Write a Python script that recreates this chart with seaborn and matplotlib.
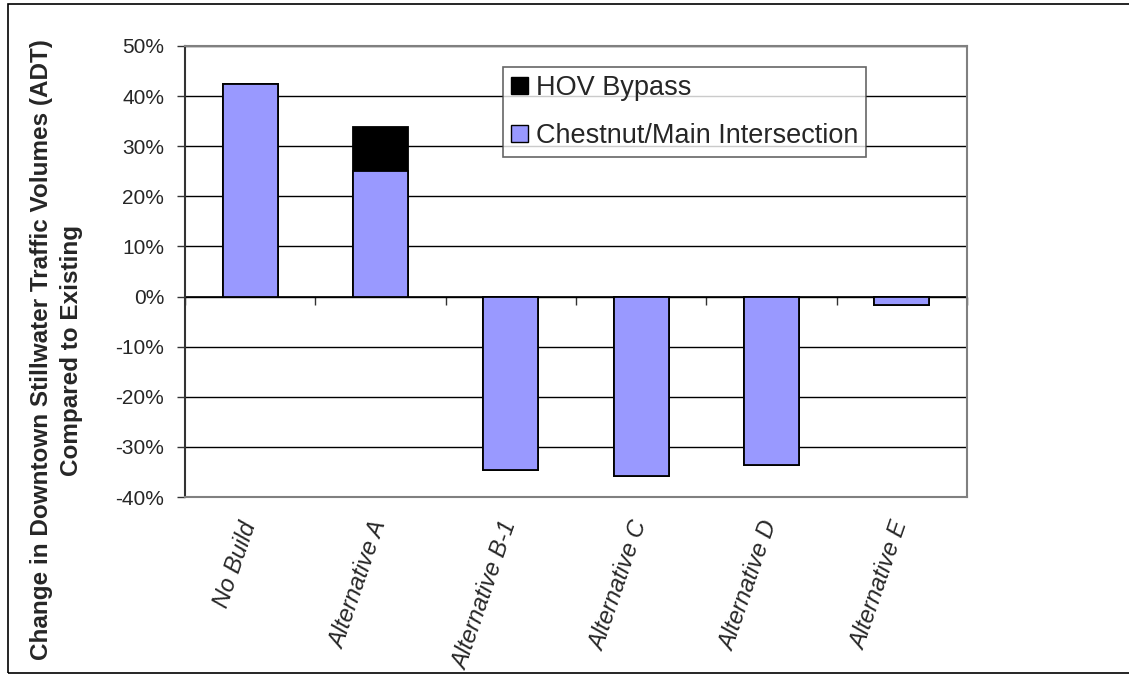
import numpy as np
import pandas as pd
import seaborn as sns
import matplotlib.pyplot as plt
from matplotlib.patches import Patch, Rectangle
from matplotlib.ticker import PercentFormatter

categories = ["No Build", "Alternative A", "Alternative B-1", "Alternative C", "Alternative D", "Alternative E"]
chestnut_main = [42.5, 25.0, -34.6, -35.9, -33.7, -1.7]
hov_bypass = [0.0, 8.8, 0.0, 0.0, 0.0, 0.0]
y_ticks = list(range(-40, 51, 10))

PURPLE = "#9999FF"

df = pd.DataFrame({"category": categories, "chestnut": chestnut_main, "hov": hov_bypass})
df["total"] = df["chestnut"] + df["hov"]

sns.set_style("white")
plt.rcParams["font.family"] = ["Liberation Sans", "DejaVu Sans"]
plt.rcParams["axes.unicode_minus"] = False

fig = plt.figure(figsize=(11.29, 6.74), dpi=100)
ax = fig.add_axes([0.1639, 0.2626, 0.6926, 0.6692])

# stacked look: black total underneath, chestnut part on top
sns.barplot(data=df, x="category", y="total", color="black", width=0.42,
            edgecolor="black", linewidth=1.3, saturation=1, ax=ax, zorder=3)
sns.barplot(data=df, x="category", y="chestnut", color=PURPLE, width=0.42,
            edgecolor="black", linewidth=1.3, saturation=1, ax=ax, zorder=4)

ax.set_xlim(-0.5, len(categories) - 0.5)
ax.set_ylim(-40, 50)
ax.set_yticks(y_ticks)
ax.yaxis.set_major_formatter(PercentFormatter(decimals=0))
ax.grid(axis="y", color="black", linewidth=1.0, zorder=0)
ax.set_axisbelow(True)
ax.set_xlabel("")
ax.set_ylabel("")

for side in ["top", "right", "bottom"]:
    ax.spines[side].set_color("#808080")
    ax.spines[side].set_linewidth(1.5)
ax.spines["left"].set_color("#333333")
ax.spines["left"].set_linewidth(1.5)

ax.tick_params(axis="y", direction="out", length=6, width=1, color="#333333",
               labelsize=15, pad=9, left=True)
ax.tick_params(axis="x", length=0, pad=18)
ax.set_xticks(range(len(categories)))
ax.set_xticklabels(categories, rotation=71, ha="right", va="center",
                   rotation_mode="anchor", fontsize=17, fontstyle="italic")

# category axis line sits at zero, ticks between categories
zero_axis = ax.secondary_xaxis(40 / 90)
zero_axis.set_xticks(np.arange(-0.5, len(categories), 1.0))
zero_axis.set_xticklabels([])
zero_axis.tick_params(direction="out", length=6, width=1, color="#333333")
zero_axis.spines["bottom"].set_color("black")
zero_axis.spines["bottom"].set_linewidth(1.2)

handles = [Patch(facecolor="black", edgecolor="black", label="HOV Bypass"),
           Patch(facecolor=PURPLE, edgecolor="black", label="Chestnut/Main Intersection")]
leg = ax.legend(handles=handles, loc="upper left", bbox_to_anchor=(0.407, 0.953),
                fontsize=19.5, frameon=True, fancybox=False, handlelength=0.6,
                handleheight=0.6, handletextpad=0.3, borderpad=0.3, labelspacing=0.8,
                borderaxespad=0)
leg.get_frame().set_edgecolor("#404040")
leg.get_frame().set_linewidth(1.2)
leg.set_zorder(10)

fig.text(0.05, 1 - 350 / 674,
         "Change in Downtown Stillwater Traffic Volumes (ADT)\nCompared to Existing",
         rotation=90, ha="center", va="center", multialignment="center",
         fontsize=17.5, fontweight="bold", linespacing=1.35)

fig.patches.append(Rectangle((8 / 1129, 0.0015), 1.0, 0.992, transform=fig.transFigure,
                             fill=False, edgecolor="black", linewidth=1.2))

fig.savefig("out.png", dpi=100)
plt.close()
